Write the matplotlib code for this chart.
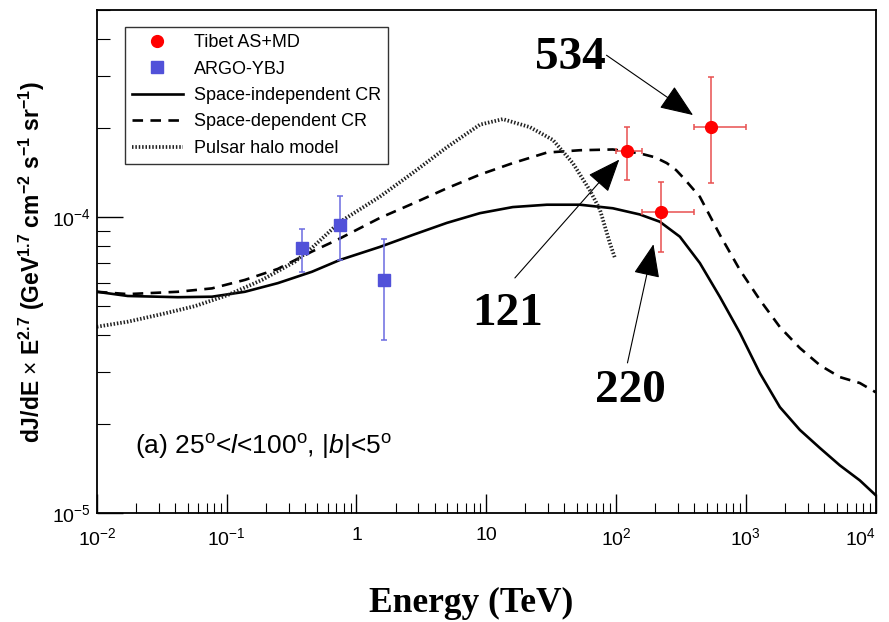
import matplotlib
matplotlib.use("Agg")
import matplotlib.pyplot as plt
from matplotlib.lines import Line2D

plt.rcParams['font.family'] = ['Liberation Sans', 'DejaVu Sans']
plt.rcParams['mathtext.fontset'] = 'custom'
plt.rcParams['mathtext.rm'] = 'Liberation Sans'
plt.rcParams['mathtext.it'] = 'Liberation Sans:italic'
plt.rcParams['mathtext.bf'] = 'Liberation Sans:bold'

# model curves (TeV, flux x E^2.7)
e_indep = [0.01, 0.0173, 0.042, 0.077, 0.138, 0.248, 0.453, 0.745, 1.51, 2.72, 4.97, 8.93,
           16.0, 29.3, 52.6, 94.4, 152, 217, 310, 442, 631, 900, 1282, 1828, 2606, 3715,
           5297, 7551, 10000]
f_indep = [5.59e-5, 5.41e-5, 5.36e-5, 5.38e-5, 5.59e-5, 5.98e-5, 6.53e-5, 7.16e-5, 7.92e-5,
           8.70e-5, 9.55e-5, 1.03e-4, 1.08e-4, 1.10e-4, 1.10e-4, 1.07e-4, 1.02e-4, 9.64e-5,
           8.58e-5, 6.99e-5, 5.37e-5, 4.06e-5, 2.97e-5, 2.28e-5, 1.91e-5, 1.66e-5, 1.45e-5,
           1.29e-5, 1.15e-5]

e_dep = [0.01, 0.0173, 0.042, 0.077, 0.138, 0.248, 0.453, 0.706, 1.51, 2.72, 4.97, 8.93,
         16.0, 29.3, 52.6, 94.4, 152, 200, 246, 290, 333, 442, 631, 900, 1282, 1828, 2606,
         3715, 5297, 7551, 10000]
f_dep = [5.59e-5, 5.49e-5, 5.59e-5, 5.74e-5, 6.13e-5, 6.68e-5, 7.64e-5, 8.36e-5, 9.92e-5,
         1.11e-4, 1.25e-4, 1.39e-4, 1.52e-4, 1.65e-4, 1.68e-4, 1.69e-4, 1.64e-4, 1.59e-4,
         1.52e-4, 1.44e-4, 1.35e-4, 1.17e-4, 8.70e-5, 6.62e-5, 5.25e-5, 4.25e-5, 3.61e-5,
         3.16e-5, 2.88e-5, 2.75e-5, 2.56e-5]

e_halo = [0.01, 0.0173, 0.0317, 0.0569, 0.102, 0.187, 0.335, 0.453, 0.745, 1.51, 2.72, 4.97,
          8.93, 13.4, 21.7, 32.6, 46.4, 62.8, 75, 89.5, 98]
f_halo = [4.26e-5, 4.43e-5, 4.70e-5, 5.0e-5, 5.45e-5, 6.13e-5, 7.06e-5, 7.86e-5, 9.62e-5,
          1.17e-4, 1.41e-4, 1.72e-4, 2.05e-4, 2.14e-4, 2.01e-4, 1.82e-4, 1.52e-4, 1.23e-4,
          1.06e-4, 8.17e-5, 7.27e-5]

# measurements
tibet_e = [121, 220, 534]
tibet_e_lo = [100, 158, 398]
tibet_e_hi = [158, 398, 1000]
tibet_f = [1.67e-4, 1.04e-4, 2.01e-4]
tibet_f_lo = [1.33e-4, 7.6e-5, 1.30e-4]
tibet_f_hi = [2.01e-4, 1.31e-4, 2.97e-4]
tibet_tags = ['121', '220', '534']

argo_e = [0.38, 0.745, 1.63]
argo_f = [7.84e-5, 9.4e-5, 6.12e-5]
argo_f_lo = [6.54e-5, 7.16e-5, 3.84e-5]
argo_f_hi = [9.13e-5, 1.18e-4, 8.4e-5]

x_ticks = [1e-2, 1e-1, 1, 10, 1e2, 1e3, 1e4]
x_ticklabels = [r'$\mathregular{10^{-2}}$', r'$\mathregular{10^{-1}}$', '1', '10',
                r'$\mathregular{10^{2}}$', r'$\mathregular{10^{3}}$', r'$\mathregular{10^{4}}$']
y_ticks = [1e-5, 1e-4]
y_ticklabels = [r'$\mathregular{10^{-5}}$', r'$\mathregular{10^{-4}}$']

fig = plt.figure(figsize=(8.89, 6.22), dpi=100)
ax = fig.add_axes([0.109, 0.175, 0.876, 0.809])
ax.set_xscale('log')
ax.set_yscale('log')
ax.set_xlim(1e-2, 1e4)
ax.set_ylim(1e-5, 5e-4)

halo_ls = (0, (0.4, 0.5))
dash_ls = (0, (4, 2.8))
ax.plot(e_indep, f_indep, color='black', lw=1.9, ls='-')
ax.plot(e_dep, f_dep, color='black', lw=1.9, ls=dash_ls)
ax.plot(e_halo, f_halo, color='#222222', lw=2.7, ls=halo_ls)

xerr = [[e - lo for e, lo in zip(tibet_e, tibet_e_lo)], [hi - e for e, hi in zip(tibet_e, tibet_e_hi)]]
yerr = [[f - lo for f, lo in zip(tibet_f, tibet_f_lo)], [hi - f for f, hi in zip(tibet_f, tibet_f_hi)]]
ax.errorbar(tibet_e, tibet_f, xerr=xerr, yerr=yerr, fmt='none', ecolor='#e8504f',
            elinewidth=1.1, capsize=2.2, capthick=1.1, zorder=4)
ax.plot(tibet_e, tibet_f, 'o', color='#ff0000', ms=8.5, zorder=5)

ayerr = [[f - lo for f, lo in zip(argo_f, argo_f_lo)], [hi - f for f, hi in zip(argo_f, argo_f_hi)]]
ax.errorbar(argo_e, argo_f, yerr=ayerr, fmt='none', ecolor='#6b6be0',
            elinewidth=1.1, capsize=2.2, capthick=1.1, zorder=4)
ax.plot(argo_e, argo_f, 's', color='#5151d9', ms=8.5, zorder=5)

# arrows and energy tags
arrow_off = [(-80.6, -91.4), (-23.8, -108.7), (-74.9, 51.8)]
arrow_shrink = [8.2, 23.8, 15.3]
tag_off = [(-86, -117), (-22, -129), (-101, 50)]
for e, f, tag, off, shr, toff in zip(tibet_e, tibet_f, tibet_tags, arrow_off, arrow_shrink, tag_off):
    ax.annotate('', xy=(e, f), xytext=off, textcoords='offset points',
                arrowprops=dict(arrowstyle='-|>,head_length=1.05,head_width=0.42',
                                mutation_scale=20, lw=0.8, color='black',
                                shrinkA=0, shrinkB=shr), zorder=6)
    ax.annotate(tag, xy=(e, f), xytext=toff, textcoords='offset points',
                ha='center', va='center', fontsize=34, fontweight='bold',
                family='Liberation Serif', zorder=6)

ax.text(0.049, 0.133, r'(a) 25$^{\rm o}$<$l$<100$^{\rm o}$, |$b$|<5$^{\rm o}$',
        transform=ax.transAxes, fontsize=19, va='center', ha='left')

ax.set_xticks(x_ticks)
ax.set_xticklabels(x_ticklabels)
ax.set_yticks(y_ticks)
ax.set_yticklabels(y_ticklabels)
ax.tick_params(axis='both', which='both', direction='in', top=False, right=False, labelsize=14)
ax.tick_params(axis='x', which='major', length=14, width=1, pad=10)
ax.tick_params(axis='x', which='minor', length=7, width=0.8)
ax.tick_params(axis='y', which='major', length=19, width=1, pad=4)
ax.tick_params(axis='y', which='minor', length=9, width=0.8)
ax.get_xticklabels()[-1].set_horizontalalignment('right')
ax.get_xticklabels()[-1].set_x(1e4)
for s in ax.spines.values():
    s.set_linewidth(1.3)

ax.set_ylabel(r'dJ/dE $\times$ E$^{\mathbf{2.7}}$ (GeV$^{\mathbf{1.7}}$ cm$^{\mathbf{-2}}$ s$^{\mathbf{-1}}$ sr$^{\mathbf{-1}}$)',
              fontsize=16.5, fontweight='bold', labelpad=4)
fig.text(471 / 889, 1 - 603 / 622, 'Energy (TeV)', ha='center', va='center', fontsize=25.5,
         fontweight='bold', family='Liberation Serif')

handles = [
    Line2D([], [], marker='o', ls='none', color='#ff0000', ms=8.5),
    Line2D([], [], marker='s', ls='none', color='#5151d9', ms=8.5),
    Line2D([], [], color='black', lw=1.9),
    Line2D([], [], color='black', lw=1.9, ls=dash_ls),
    Line2D([], [], color='#222222', lw=2.7, ls=halo_ls),
]
labels = ['Tibet AS+MD', 'ARGO-YBJ', 'Space-independent CR', 'Space-dependent CR', 'Pulsar halo model']
leg = ax.legend(handles, labels, loc='upper left', bbox_to_anchor=(0.036, 0.966), borderaxespad=0,
                fontsize=13, handlelength=2.8, handletextpad=0.6, labelspacing=0.52,
                fancybox=False, framealpha=1, edgecolor='#333333', borderpad=0.4)
leg.get_frame().set_linewidth(1.0)

fig.savefig('out.png', dpi=100)
